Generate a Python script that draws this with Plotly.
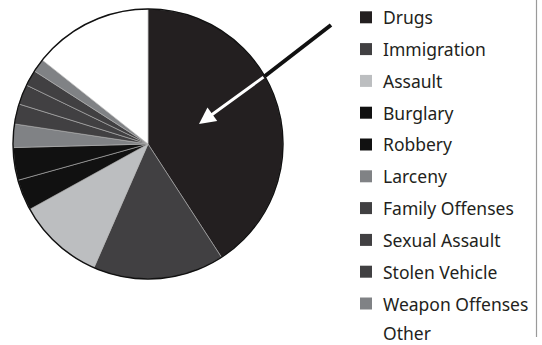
import plotly.graph_objects as go

categories = ["Drugs", "Immigration", "Assault", "Burglary", "Robbery", "Larceny",
              "Family Offenses", "Sexual Assault", "Stolen Vehicle", "Weapon Offenses", "Other"]
shares = [40.8, 15.7, 10.4, 3.7, 3.9, 2.8, 2.4, 2.4, 1.9, 1.6, 14.3]
colors = ["#231f20", "#414042", "#bcbec0", "#111111", "#111111", "#808285",
          "#414042", "#414042", "#414042", "#808285", "#ffffff"]

W, H = 542, 345
def px(x):
    return x / W
def py(y):
    return 1 - y / H

# pie geometry (window pixels)
cx, cy, r = 148, 144, 135

fig = go.Figure()
fig.add_trace(go.Pie(
    labels=categories, values=shares, sort=False, direction="clockwise", rotation=0,
    marker=dict(colors=colors, line=dict(color="#b0b0b0", width=0.6)),
    textinfo="none", hoverinfo="label+percent", showlegend=False,
    domain=dict(x=[px(cx - r), px(cx + r)], y=[py(cy + r), py(cy - r)]),
))

shapes = []
# outer outline of pie
shapes.append(dict(type="circle", xref="paper", yref="paper",
                   x0=px(cx - r), x1=px(cx + r), y0=py(cy + r), y1=py(cy - r),
                   line=dict(color="#111111", width=1.4), fillcolor="rgba(0,0,0,0)"))
# black part of arrow outside the pie
shapes.append(dict(type="line", xref="paper", yref="paper",
                   x0=px(331), y0=py(25), x1=px(265), y1=py(76),
                   line=dict(color="#111111", width=4)))
# right border line
shapes.append(dict(type="line", xref="paper", yref="paper",
                   x0=px(536.5), x1=px(536.5), y0=py(0), y1=py(337),
                   line=dict(color="#9a9a9a", width=1.2)))

annotations = [dict(x=px(199), y=py(124), xref="paper", yref="paper", text="",
                    showarrow=True, ax=66, ay=-48, arrowcolor="#ffffff",
                    arrowwidth=3, arrowhead=2, arrowsize=1.1, standoff=0)]

# legend drawn as swatches + text
y0, step = 17.3, 31.8
for i, (lab, col) in enumerate(zip(categories, colors)):
    yc = y0 + i * step
    shapes.append(dict(type="rect", xref="paper", yref="paper",
                       x0=px(360), x1=px(372), y0=py(yc + 6), y1=py(yc - 6),
                       fillcolor=col, line=dict(width=0)))
    yt = min(yc, H - 11.8)
    annotations.append(dict(x=px(381), y=py(yt), xref="paper", yref="paper",
                            text=lab, showarrow=False, xanchor="left", yanchor="middle",
                            font=dict(family="Noto Sans", size=17.5, color="#231f20")))

fig.update_layout(width=W, height=H, margin=dict(l=0, r=0, t=0, b=0),
                  paper_bgcolor="white", plot_bgcolor="white",
                  shapes=shapes, annotations=annotations, showlegend=False)
fig.write_html("out.html", config={"displayModeBar": False},
               post_script="document.body.style.margin='0';document.body.style.overflow='hidden';")
